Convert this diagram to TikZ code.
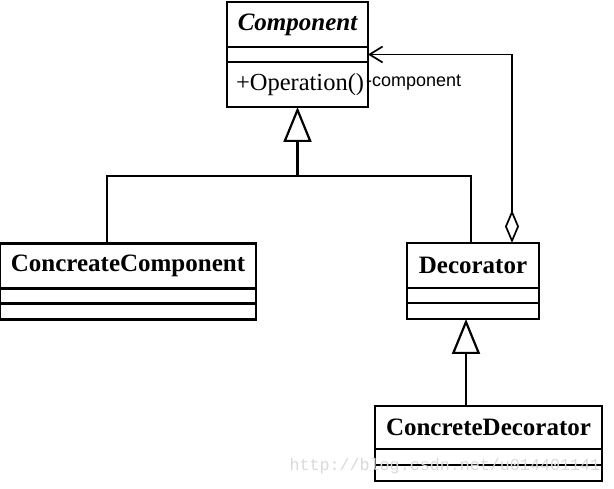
\documentclass[tikz,border=0pt]{standalone}
\usepackage{fontspec}
\setmainfont{Liberation Serif}
\newfontfamily\rolefont{Liberation Sans}
\newfontfamily\markfont{Liberation Mono}
\usetikzlibrary{arrows.meta,positioning}

\begin{document}
\begin{tikzpicture}
  [x=1pt, y=-1pt,
   classname/.style={draw,line width=2.8pt,outer sep=0pt,minimum height=45pt,
     font=\fontsize{25}{30}\selectfont\bfseries},
   slot/.style={draw,line width=2.8pt,outer sep=0pt,minimum height=16pt},
   link/.style={line width=2.2pt},
   generalize/.style={-{Triangle[open,length=35pt,width=28pt]},line width=2.2pt},
   aggregate/.style={{Diamond[open,length=33pt,width=14pt]}-{Straight Barb[length=13pt,width=16pt]},
     line width=1.7pt}]

  \useasboundingbox (0,0) rectangle (614,489);

  % abstract component
  \node[classname,minimum width=141pt] (component) at (297.5,24.5) {\itshape Component};
  \node[slot,minimum width=141pt,minimum height=15pt] (component attr) [below=0pt of component] {};
  \node[slot,minimum height=45pt,inner xsep=9pt,text width=123pt,align=left,
        font=\fontsize{24.5}{28}\selectfont] (component ops) [below=0pt of component attr] {+Operation()};
  \node[anchor=west,inner sep=0pt,font=\rolefont\fontsize{18}{20}\selectfont] (role)
    at ([xshift=-2pt,yshift=2pt]component ops.east) {-component};

  % concrete component
  \node[classname,minimum width=256pt] (concrete component) at (128,266) {ConcreateComponent};
  \node[slot,minimum width=256pt,minimum height=15pt] (concrete component attr) [below=0pt of concrete component] {};
  \node[slot,minimum width=256pt] (concrete component ops) [below=0pt of concrete component attr] {};

  % decorator
  \node[classname,minimum width=132pt] (decorator) at (473,265.5) {Decorator};
  \node[slot,minimum width=132pt,minimum height=15pt] (decorator attr) [below=0pt of decorator] {};
  \node[slot,minimum width=132pt] (decorator ops) [below=0pt of decorator attr] {};

  % concrete decorator
  \node[classname,minimum width=227pt,minimum height=43pt] (concrete decorator) at (488.5,427.5) {ConcreteDecorator};
  \node[slot,minimum width=227pt] (concrete decorator attr) [below=0pt of concrete decorator] {};
  \node[slot,minimum width=227pt] (concrete decorator ops) [below=0pt of concrete decorator attr] {};

  % connectors
  \coordinate (fork) at (297.5,176);
  \draw[generalize] (fork) -- (component ops.south);
  \draw[link] ([xshift=-21pt]concrete component.north) |- (fork) -| ([xshift=-2pt]decorator.north);
  \draw[aggregate] ([xshift=39pt]decorator.north) |- (component attr.east);
  \draw[generalize] ([xshift=-22.5pt]concrete decorator.north)
    -- ([xshift=-22.5pt]concrete decorator.north |- decorator ops.south);

  \node[anchor=west,text=gray!30,font=\markfont\fontsize{16.7}{20}\selectfont] (mark)
    at (286,466) {http://blog.csdn.net/u014401141};
\end{tikzpicture}
\end{document}
